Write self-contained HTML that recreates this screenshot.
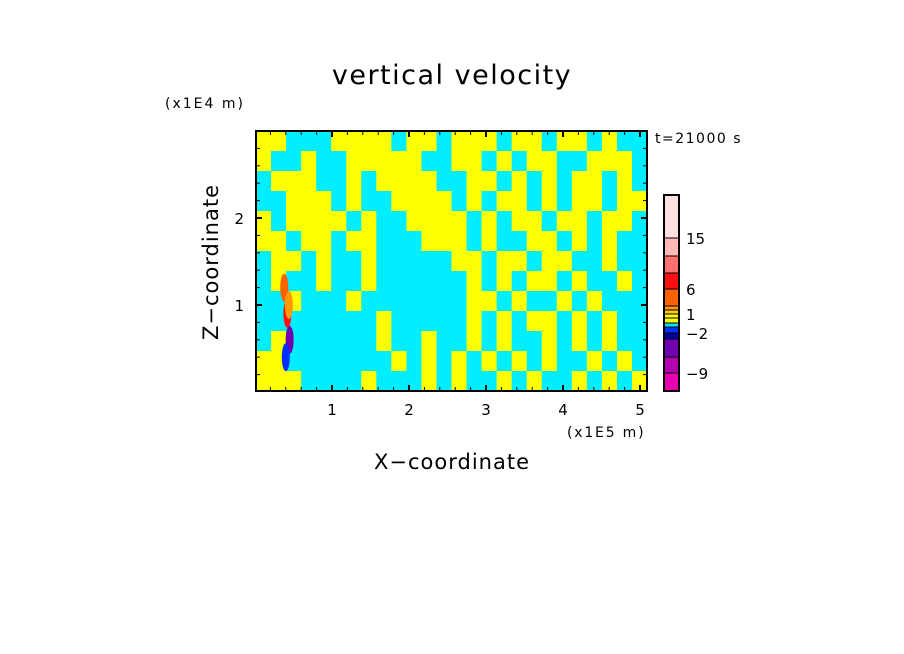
<!DOCTYPE html>
<html><head><meta charset="utf-8"><style>
html,body{margin:0;padding:0;background:#fff;}
svg{display:block;font-family:"DejaVu Sans","Liberation Sans",sans-serif;}
</style></head><body>
<svg id="chart" width="904" height="654" viewBox="0 0 904 654">
<text x="452" y="84" font-size="27" letter-spacing="1.5" text-anchor="middle">vertical velocity</text>
<text x="165" y="108" font-size="14" letter-spacing="2">(x1E4 m)</text>
<text x="655" y="143" font-size="14" letter-spacing="1.5">t=21000 s</text>
<text x="567" y="437" font-size="14" letter-spacing="1.8">(x1E5 m)</text>
<text x="452" y="469" font-size="21" letter-spacing="1" text-anchor="middle">X−coordinate</text>
<text transform="translate(218,262) rotate(-90)" font-size="21" letter-spacing="1" text-anchor="middle">Z−coordinate</text>
<g id="field"></g>
<g id="axes"></g>
<g id="cbar"></g>
</svg>
<script>
const fieldRows = [
"YYCCCYYYYCYYCYYYCYYCYYCYCC",
"YCCYCCYYYYYCCYYCYCYYCCYYYC",
"CYYYCCYCYYYYCCYYCYCYCYYCYC",
"CCYYYCYCCYYYYCYCYYCYCYYCYY",
"YCYYYYCYCCYYYYCYCYYCYYCYYC",
"YYCYYCYYCCCYYYCYCCYYCYCYCC",
"CYYCYCCYCCCCCYYCYYCYYCCYCC",
"CYCCYCCYCCCCCCYCYCYYCYCCYC",
"CCYCCCYCCCCCCCYYCYCCYCYCCC",
"CCCCCCCCYCCCCCYCYCYYCYCYCC",
"CYCCCCCCYCCYCCYCYCCYCYCYCC",
"YYCCCCCCCYCYCYCYCYCYCCYCYC",
"YYYCCCCYCCCYCYCCYCYCCYCYCY"];
const xTicks = [1,2,3,4,5];
const yTicks = [1,2];
const cbarColors = ["#ffe0e0","#ffb8b8","#ff7070","#ff1010","#ff6000","#ff9a00","#ffcc00","#ffff00","#ffff00","#00e8ff","#0030ff","#0000a0","#7000b0","#b000b0","#e800b0"];
const cbarEdges = [195,238,256,273,289,306,310,314,318,323,327,333,339,357,373,391];
const cbarLabels = ["15","6","1","−2","−9"];
const cbarLabelIdx = [1,4,7,11,14];
const blobX = [0.38,0.42,0.45,0.40,0.44];
const blobZ = [1.2,0.9,0.6,0.4,1.0];
const blobC = ["#ff6000","#ff1010","#7000b0","#0030ff","#ff9a00"];

const NS="http://www.w3.org/2000/svg";
const X0=256,X1=647,Y0=131,Y1=391;
const sx=v=>255+v*77, sz=v=>392-v*87;
function mk(tag,attrs,parent){const e=document.createElementNS(NS,tag);for(const k in attrs)e.setAttribute(k,attrs[k]);parent.appendChild(e);return e;}
const field=document.getElementById('field');
const nr=fieldRows.length,nc=fieldRows[0].length;
const cw=(X1-X0)/nc,ch=(Y1-Y0)/nr;
fieldRows.forEach((row,i)=>{for(let j=0;j<nc;j++){
  const r=mk('rect',{x:X0+j*cw,y:Y0+i*ch,width:cw+0.5,height:ch+0.5,fill:row[j]==='Y'?'#ffff00':'#00eeff'},field);
  
  
}});
blobX.forEach((x,i)=>{
  const e=mk('ellipse',{cx:sx(x),cy:sz(blobZ[i]),rx:4,ry:14,fill:blobC[i]},field);
  
  
});
const axes=document.getElementById('axes');
const fr=mk('rect',{x:X0,y:Y0,width:X1-X0,height:Y1-Y0,fill:'none',stroke:'#000','stroke-width':2},axes);


for(let v=0.2;v<5.15;v+=0.2){const x=sx(v);const big=Math.abs(v-Math.round(v))<0.01;
  mk('line',{x1:x,x2:x,y1:Y1,y2:Y1-(big?6:4),stroke:'#000','stroke-width':big?2:1},axes);
  mk('line',{x1:x,x2:x,y1:Y0,y2:Y0+(big?6:4),stroke:'#000','stroke-width':big?2:1},axes);}
for(let v=0.2;v<3.0;v+=0.2){const y=sz(v);const big=Math.abs(v-Math.round(v))<0.01;
  mk('line',{x1:X0,x2:X0+(big?6:4),y1:y,y2:y,stroke:'#000','stroke-width':big?2:1},axes);
  mk('line',{x1:X1,x2:X1-(big?6:4),y1:y,y2:y,stroke:'#000','stroke-width':big?2:1},axes);}
xTicks.forEach(v=>{const t=mk('text',{x:sx(v),y:415,'font-size':15,'text-anchor':'middle'},axes);t.textContent=v;
  
  });
yTicks.forEach(v=>{const t=mk('text',{x:244,y:sz(v)+6,'font-size':15,'text-anchor':'end'},axes);t.textContent=v;
  
  });
const cb=document.getElementById('cbar');
cbarColors.forEach((c,i)=>{const r=mk('rect',{x:664,y:cbarEdges[i],width:15,height:cbarEdges[i+1]-cbarEdges[i],fill:c,stroke:'#000','stroke-width':1},cb);
  
  });
mk('rect',{x:664,y:195,width:15,height:196,fill:'none',stroke:'#000','stroke-width':2},cb);
cbarLabels.forEach((l,i)=>{const t=mk('text',{x:686,y:cbarEdges[cbarLabelIdx[i]]+6,'font-size':15},cb);t.textContent=l;
  
  });
</script>
</body></html>
